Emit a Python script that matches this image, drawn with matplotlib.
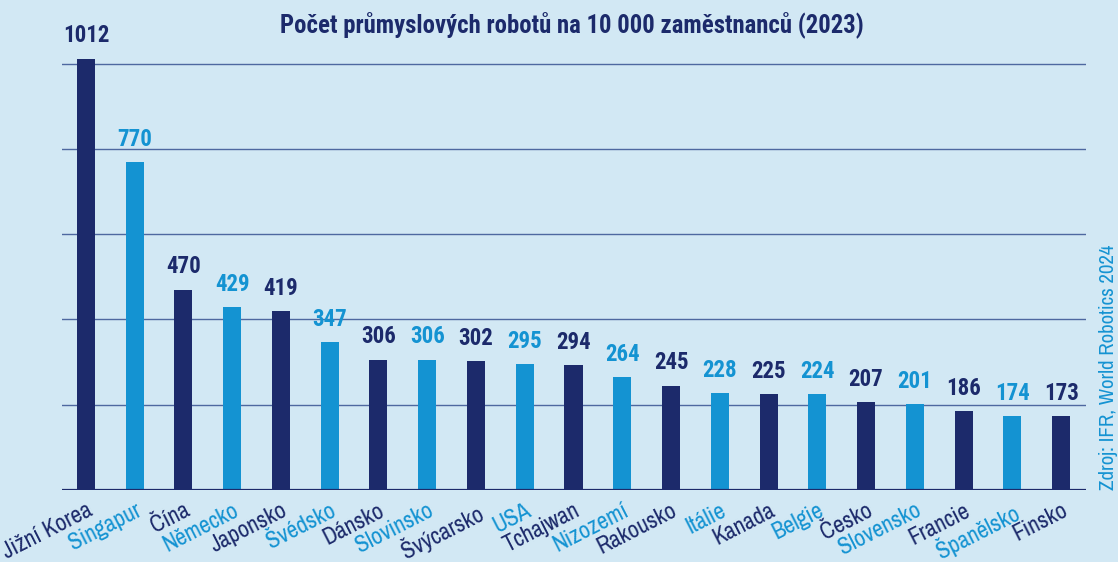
import matplotlib
matplotlib.use("Agg")
import matplotlib.pyplot as plt

countries = [
    "Jižní Korea", "Singapur", "Čína", "Německo", "Japonsko", "Švédsko",
    "Dánsko", "Slovinsko", "Švýcarsko", "USA", "Tchajwan", "Nizozemí",
    "Rakousko", "Itálie", "Kanada", "Belgie", "Česko", "Slovensko",
    "Francie", "Španělsko", "Finsko",
]
robots = [1012, 770, 470, 429, 419, 347, 306, 306, 302, 295, 294, 264,
          245, 228, 225, 224, 207, 201, 186, 174, 173]
gridlines = [200, 400, 600, 800, 1000]

title = "Počet průmyslových robotů na 10 000 zaměstnanců (2023)"
source = "Zdroj: IFR, World Robotics 2024"

BG = "#d2e8f4"
DARK = "#1c2a6b"
LIGHT = "#1493d2"
BOLD_FONT = ["Roboto Condensed", "DejaVu Sans"]
TEXT_FONT = ["Archivo Narrow", "Roboto Condensed", "DejaVu Sans"]

W, H = 1118, 562
fig = plt.figure(figsize=(W / 100, H / 100), dpi=100, facecolor=BG)
# axes placed in pixel coordinates: x 62..1086, baseline at y=490, top at y=21
ax = fig.add_axes([62 / W, (H - 490) / H, (1086 - 62) / W, (490 - 21) / H])
ax.set_facecolor(BG)

colors = [DARK if i % 2 == 0 else LIGHT for i in range(len(countries))]
x = list(range(len(countries)))
ax.bar(x, robots, width=0.37, color=colors, zorder=3)

for g in gridlines:
    ax.axhline(g, color="#4e68a0", lw=1, zorder=2)
ax.axhline(0, color=DARK, lw=1.6, zorder=4)

ax.set_xlim(-0.49, 20.51)
ax.set_ylim(0, 1100)
for s in ax.spines.values():
    s.set_visible(False)
ax.set_xticks([])
ax.set_yticks([])

for xi, v, c in zip(x, robots, colors):
    ax.annotate(str(v), (xi, v), xytext=(0, 8), textcoords="offset points",
                ha="center", va="bottom", fontsize=16.5, fontweight="bold",
                color=c, family=BOLD_FONT)

for xi, name, c in zip(x, countries, colors):
    ax.annotate(name, (xi, 0), xytext=(0, -7), textcoords="offset points",
                ha="right", va="top", rotation=27, rotation_mode="anchor",
                fontsize=17, color=c, family=TEXT_FONT, annotation_clip=False)

fig.text(572 / W, 1 - 32 / H, title, ha="center", va="baseline",
         fontsize=17.8, fontweight="bold", color=DARK, family=BOLD_FONT)
fig.text(1108 / W, 1 - 490 / H, source, ha="center", va="bottom",
         rotation=90, fontsize=15, color=LIGHT, family=TEXT_FONT)

fig.savefig("out.png", dpi=100, facecolor=BG)
